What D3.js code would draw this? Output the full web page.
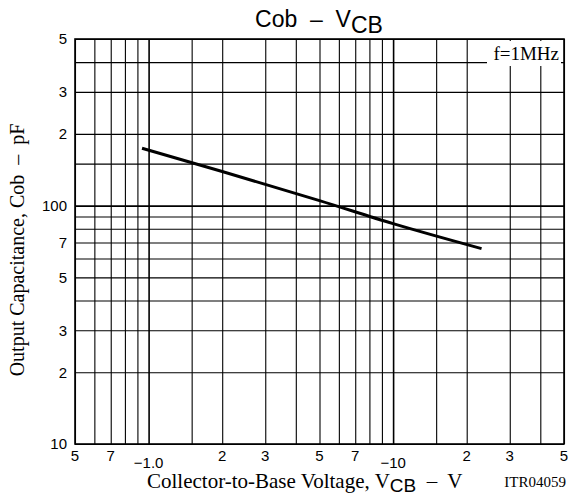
<!DOCTYPE html>
<html>
<head>
<meta charset="utf-8">
<script src="https://cdn.jsdelivr.net/npm/d3@7"></script>
<style>
  body { margin: 0; background: #fff; }
  svg { display: block; }
</style>
</head>
<body>
<div id="chart"></div>
<script>
// data
var vcb = [0.94, 2, 5, 10, 23];
var cob = [174, 139, 105, 84, 66];

// grid + tick labels
var xGrid = [0.5, 0.6, 0.7, 0.8, 0.9, 1, 1.5, 2, 3, 4, 5, 6, 7, 8, 9, 10, 15, 20, 30, 40, 50];
var xTicks = [0.5, 0.7, 1, 2, 3, 5, 7, 10, 20, 30, 50];
var xTickLabels = ['5', '7', '\u22121.0', '2', '3', '5', '7', '\u221210', '2', '3', '5'];
var yGrid = [10, 20, 30, 40, 50, 60, 70, 80, 90, 100, 150, 200, 300, 400, 500];
var yTicks = [10, 20, 30, 50, 70, 100, 200, 300, 500];
var yTickLabels = ['10', '2', '3', '5', '7', '100', '2', '3', '5'];

var width = 570
var height = 500
var margin = { top: 39, right: 6, bottom: 56, left: 75 }

var svg = d3.select('#chart')
  .append('svg')
  .attr('width', width)
  .attr('height', height)

var x = d3.scaleLog()
  .domain([0.5, 50])
  .range([margin.left, width - margin.right])

var y = d3.scaleLog()
  .domain([10, 500])
  .range([height - margin.bottom, margin.top])

var sans = 'Liberation Sans, Arial, sans-serif'
var serif = 'Liberation Serif, Times New Roman, serif'

// vertical grid
svg.append('g')
  .call(d3.axisBottom(x).tickValues(xGrid).tickSize(-(y(10) - y(500))).tickFormat(''))
  .attr('transform', 'translate(0,' + y(10) + ')')
  .call(function (g) {
    g.select('.domain').remove()
    g.selectAll('line')
      .attr('stroke', '#000')
      .attr('stroke-width', function (d) { return (d === 1 || d === 10) ? 1.6 : 1.1 })
  })

// horizontal grid
svg.append('g')
  .call(d3.axisLeft(y).tickValues(yGrid).tickSize(-(x(50) - x(0.5))).tickFormat(''))
  .attr('transform', 'translate(' + x(0.5) + ',0)')
  .call(function (g) {
    g.select('.domain').remove()
    g.selectAll('line')
      .attr('stroke', '#000')
      .attr('stroke-width', function (d) { return d === 100 ? 1.6 : 1.1 })
  })

// frame
svg.append('rect')
  .attr('x', x(0.5))
  .attr('y', y(500))
  .attr('width', x(50) - x(0.5))
  .attr('height', y(10) - y(500))
  .attr('fill', 'none')
  .attr('stroke', '#000')
  .attr('stroke-width', 1.6)

// x tick labels (the decade ones sit a bit lower)
svg.append('g')
  .selectAll('text')
  .data(xTicks)
  .enter().append('text')
  .attr('x', function (d) { return x(d) })
  .attr('y', function (d, i) { return (d === 1 || d === 10) ? 468 : 461 })
  .attr('text-anchor', 'middle')
  .style('font-family', sans)
  .style('font-size', '15px')
  .text(function (d, i) { return xTickLabels[i] })

// y tick labels
svg.append('g')
  .selectAll('text')
  .data(yTicks)
  .enter().append('text')
  .attr('x', 67)
  .attr('y', function (d) { return y(d) })
  .attr('dy', '0.36em')
  .attr('text-anchor', 'end')
  .style('font-family', sans)
  .style('font-size', '15px')
  .text(function (d, i) { return yTickLabels[i] })

// the curve
var line = d3.line()
  .x(function (d) { return x(d[0]) })
  .y(function (d) { return y(d[1]) })
  .curve(d3.curveMonotoneX)

svg.append('path')
  .datum(d3.zip(vcb, cob))
  .attr('d', line)
  .attr('fill', 'none')
  .attr('stroke', '#000')
  .attr('stroke-width', 3)

// f=1MHz note with white box behind it
svg.append('rect')
  .attr('x', 487)
  .attr('y', 41)
  .attr('width', 74)
  .attr('height', 25)
  .attr('fill', '#fff')
svg.append('text')
  .attr('x', 559)
  .attr('y', 60)
  .attr('text-anchor', 'end')
  .style('font-family', serif)
  .style('font-size', '19px')
  .text('f=1MHz')

// title
var title = svg.append('text')
  .attr('x', 319)
  .attr('y', 27)
  .attr('text-anchor', 'middle')
  .style('font-family', sans)
  .style('font-size', '23px')
  .style('white-space', 'pre')
title.append('tspan').text('Cob  \u2013  V')
title.append('tspan').attr('dy', 6).text('CB')

// x axis title
var xt = svg.append('text')
  .attr('x', 147)
  .attr('y', 488)
  .style('font-family', serif)
  .style('font-size', '21px')
  .style('white-space', 'pre')
xt.append('tspan').text('Collector-to-Base Voltage, V')
xt.append('tspan').attr('dy', 4).style('font-family', sans).style('font-size', '19px').text('CB')
xt.append('tspan').attr('dy', -4).text('  \u2013  V')

svg.append('text')
  .attr('x', 566)
  .attr('y', 487)
  .attr('text-anchor', 'end')
  .style('font-family', serif)
  .style('font-size', '15px')
  .text('ITR04059')

// y axis title
svg.append('text')
  .attr('transform', 'translate(24,250) rotate(-90)')
  .attr('text-anchor', 'middle')
  .style('font-family', serif)
  .style('font-size', '20px')
  .style('white-space', 'pre')
  .text('Output Capacitance, Cob  \u2013  pF')
</script>
</body>
</html>
